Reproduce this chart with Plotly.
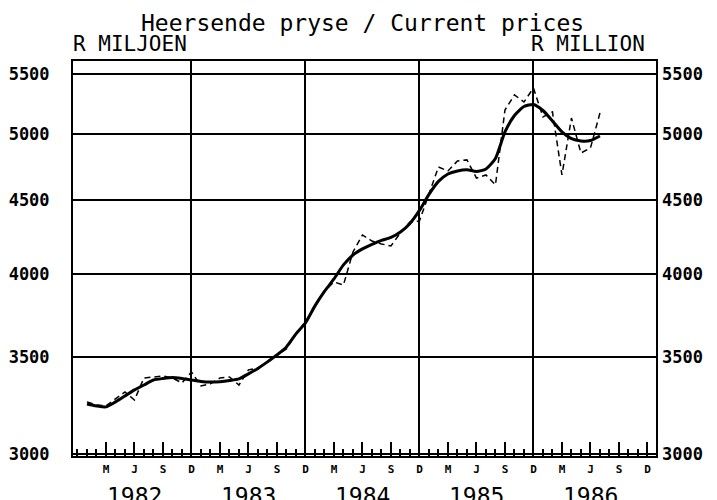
import math
import plotly.graph_objects as go

# month index: 0 = Dec 1981, 12 = Dec 1982, ... 60 = Dec 1986
months = list(range(1, 56))  # Jan 1982 .. Jul 1986

trend = [3249, 3239, 3234, 3260, 3291, 3323, 3349, 3376, 3384, 3389, 3384, 3376,
         3368, 3365, 3367, 3373, 3382, 3409, 3439, 3475, 3514, 3559, 3634, 3698,
         3800, 3889, 3967, 4057, 4122, 4162, 4192, 4219, 4239, 4276, 4335, 4426,
         4541, 4636, 4691, 4714, 4723, 4710, 4729, 4809, 5017, 5151, 5225, 5242,
         5192, 5106, 5017, 4963, 4945, 4949, 4985]

actual = [3260, 3244, 3239, 3275, 3312, 3270, 3387, 3392, 3398, 3387, 3360, 3420,
          3344, 3355, 3387, 3392, 3349, 3431, 3442, 3475, 3514, 3548, 3634, 3704,
          3800, 3892, 3948, 3929, 4142, 4256, 4215, 4195, 4182, 4270, 4345, 4352,
          4544, 4744, 4714, 4790, 4798, 4661, 4684, 4610, 5196, 5323, 5263, 5382,
          5139, 5180, 4684, 5130, 4851, 4890, 5171]

y_ticks = [3000, 3500, 4000, 4500, 5000, 5500]
quarter_ticks = list(range(3, 61, 3))
quarter_labels = ["M", "J", "S", "D"] * 5
december_lines = [12, 24, 36, 48]
year_pos = [6, 18, 30, 42, 54]
year_labels = ["1982", "1983", "1984", "1985", "1986"]

title_text = "Heersende pryse / Current prices"
left_unit = "R MILJOEN"
right_unit = "R MILLION"

x_range = [-0.47, 60.9]
y_range = [math.log10(2990), math.log10(5619)]

MONO = "DejaVu Sans Mono"

fig = go.Figure()
fig.add_trace(go.Scatter(x=months, y=actual, mode="lines",
                         line=dict(color="black", width=1.5, dash="6px,4px"),
                         showlegend=False, hoverinfo="skip"))
fig.add_trace(go.Scatter(x=months, y=trend, mode="lines",
                         line=dict(color="black", width=3, shape="spline", smoothing=0.6),
                         showlegend=False, hoverinfo="skip"))
# invisible trace on the overlay axes (right labels, December grid lines)
fig.add_trace(go.Scatter(x=[months[0]], y=[trend[0]], xaxis="x2", yaxis="y2",
                         mode="markers", marker=dict(opacity=0), showlegend=False,
                         hoverinfo="skip"))

# page body adds an 8px offset, so the figure is 8px smaller than the window
fig.update_layout(
    width=709, height=492,
    margin=dict(l=65, r=61, t=53, b=44, autoexpand=False),
    paper_bgcolor="white", plot_bgcolor="white",
    xaxis=dict(range=x_range, showgrid=False, zeroline=False, automargin=False,
               showline=True, linecolor="black", linewidth=2, mirror=True,
               tickmode="array", tickvals=quarter_ticks, ticktext=quarter_labels,
               ticks="inside", ticklen=14, tickwidth=1.5, tickcolor="black",
               minor=dict(dtick=1, tick0=0, ticks="inside", ticklen=7,
                          tickwidth=1.5, tickcolor="black", showgrid=False),
               tickfont=dict(family=MONO, size=11, color="black", weight="bold"),
               ticklabelstandoff=2),
    xaxis2=dict(range=x_range, overlaying="x", anchor="y2", side="bottom",
                automargin=False,
                tickmode="array", tickvals=december_lines, showticklabels=False,
                ticks="", showgrid=True, gridcolor="black", gridwidth=1.5,
                zeroline=False, showline=False),
    yaxis=dict(type="log", range=y_range, tickmode="array", tickvals=y_ticks,
               ticktext=[str(v) for v in y_ticks], automargin=False,
               showgrid=True, gridcolor="black", gridwidth=1.5, zeroline=False,
               showline=True, linecolor="black", linewidth=2, mirror=True,
               ticks="", tickfont=dict(family=MONO, size=17, color="black", weight="bold"),
               ticklabelstandoff=18),
    yaxis2=dict(type="log", range=y_range, overlaying="y", side="right", anchor="x2",
                automargin=False,
                tickmode="array", tickvals=y_ticks, ticktext=[str(v) for v in y_ticks],
                showgrid=False, zeroline=False, showline=False, ticks="",
                tickfont=dict(family=MONO, size=17, color="black", weight="bold"),
                ticklabelstandoff=5),
)

annotations = [
    dict(text=title_text, x=0.496, y=1.097, xref="paper", yref="paper",
         xanchor="center", yanchor="middle", showarrow=False,
         font=dict(family=MONO, size=23, color="black")),
    dict(text=left_unit, x=-0.004, y=1.042, xref="paper", yref="paper",
         xanchor="left", yanchor="middle", showarrow=False,
         font=dict(family=MONO, size=21, color="black")),
    dict(text=right_unit, x=0.985, y=1.042, xref="paper", yref="paper",
         xanchor="right", yanchor="middle", showarrow=False,
         font=dict(family=MONO, size=21, color="black")),
]
for xp, lab in zip(year_pos, year_labels):
    annotations.append(dict(text=lab, x=xp, y=-0.102, xref="x", yref="paper",
                            xanchor="center", yanchor="middle", showarrow=False,
                            font=dict(family=MONO, size=23, color="black")))
fig.update_layout(annotations=annotations)

fig.write_html("out.html")
